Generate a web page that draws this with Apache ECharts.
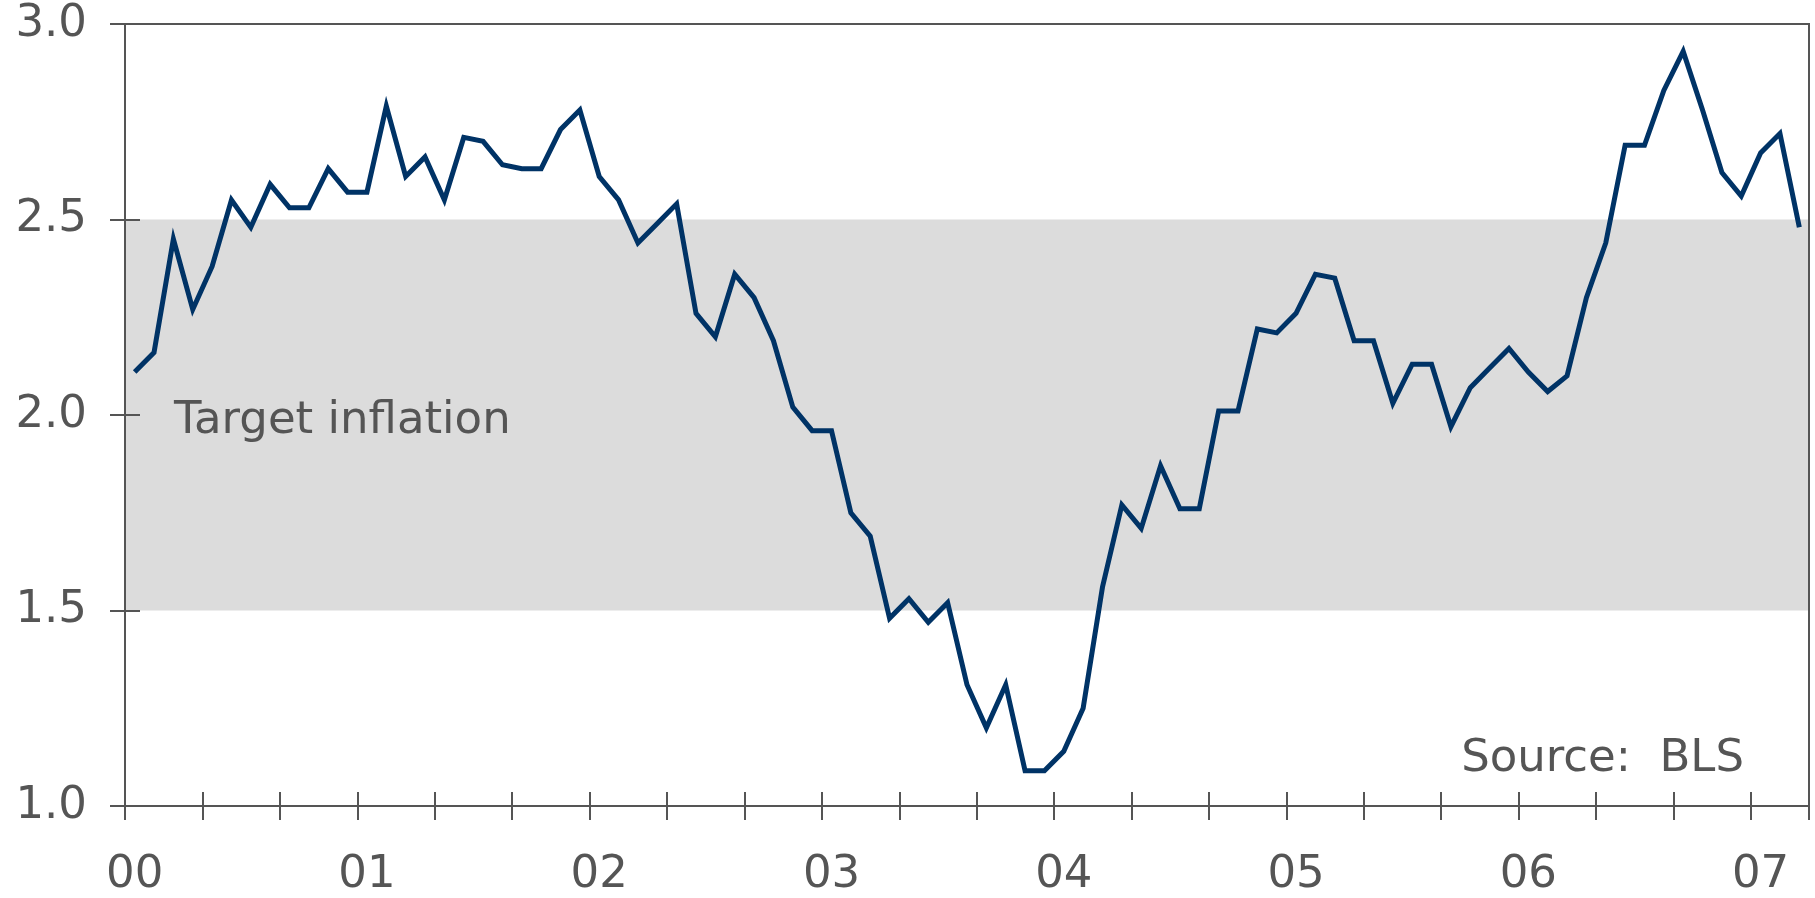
<!DOCTYPE html>
<html>
<head>
<meta charset="utf-8">
<script src="https://cdn.jsdelivr.net/npm/echarts@6/dist/echarts.min.js"></script>
<style>
  html, body { margin: 0; padding: 0; background: #fff; }
  #chart { width: 1815px; height: 898px; }
</style>
</head>
<body>
<div id="chart"></div>
<script>
// year tick labels (one label every 12 months)
var yearLabels = ['00', '01', '02', '03', '04', '05', '06', '07']
var monthsInLastYear = 3

// inflation, % y/y, monthly from Jan 2000
var inflation = [
  2.11, 2.16, 2.45, 2.27, 2.38, 2.55, 2.48, 2.59, 2.53, 2.53, 2.63, 2.57,
  2.57, 2.79, 2.61, 2.66, 2.55, 2.71, 2.70, 2.64, 2.63, 2.63, 2.73, 2.78,
  2.61, 2.55, 2.44, 2.49, 2.54, 2.26, 2.20, 2.36, 2.30, 2.19, 2.02, 1.96,
  1.96, 1.75, 1.69, 1.48, 1.53, 1.47, 1.52, 1.31, 1.20, 1.31, 1.09, 1.09,
  1.14, 1.25, 1.56, 1.77, 1.71, 1.87, 1.76, 1.76, 2.01, 2.01, 2.22, 2.21,
  2.26, 2.36, 2.35, 2.19, 2.19, 2.03, 2.13, 2.13, 1.97, 2.07, 2.12, 2.17,
  2.11, 2.06, 2.10, 2.30, 2.44, 2.69, 2.69, 2.83, 2.93, 2.78, 2.62, 2.56,
  2.67, 2.72, 2.48
]

// target band
var targetLow = 1.5
var targetHigh = 2.5

// build month categories from the year labels
var categories = []
yearLabels.forEach(function (y, idx) {
  var n = idx === yearLabels.length - 1 ? monthsInLastYear : 12
  for (var m = 1; m <= n; m++) {
    categories.push(y + '-' + (m < 10 ? '0' + m : m))
  }
})

var axisColor = '#555555'
var textColor = '#555555'
var fontFamily = 'DejaVu Sans'
var fontSize = 45

var chart = echarts.init(document.getElementById('chart'), null, { renderer: 'canvas' })

chart.setOption({
  animation: false,
  backgroundColor: '#ffffff',
  textStyle: { fontFamily: fontFamily },
  grid: {
    left: 125,
    right: 6,
    top: 24,
    bottom: 89,
    show: true,
    z: 5,
    borderColor: axisColor,
    borderWidth: 2,
    backgroundColor: 'transparent'
  },
  xAxis: [
    {
      type: 'category',
      data: categories,
      boundaryGap: true,
      position: 'bottom',
      z: 5,
      axisLine: { onZero: false, lineStyle: { color: axisColor, width: 2 } },
      axisTick: { show: true, interval: 3, length: 14, lineStyle: { color: axisColor, width: 2 } },
      axisLabel: {
        interval: 11,
        margin: 47,
        color: textColor,
        fontSize: fontSize,
        fontFamily: fontFamily,
        formatter: function (v) { return v.split('-')[0] }
      },
      splitLine: { show: false }
    },
    {
      // inside half of the crossing ticks
      type: 'category',
      data: categories,
      boundaryGap: true,
      position: 'bottom',
      z: 5,
      axisLine: { show: false, onZero: false },
      axisTick: { show: true, inside: true, interval: 3, length: 14, lineStyle: { color: axisColor, width: 2 } },
      axisLabel: { show: false },
      splitLine: { show: false }
    }
  ],
  yAxis: [
    {
      type: 'value',
      min: 1,
      max: 3,
      interval: 0.5,
      z: 5,
      axisLine: { show: true, lineStyle: { color: axisColor, width: 2 } },
      axisTick: { show: true, length: 15, lineStyle: { color: axisColor, width: 2 } },
      axisLabel: {
        margin: 38,
        color: textColor,
        fontSize: fontSize,
        fontFamily: fontFamily,
        formatter: function (v) { return v.toFixed(1) }
      },
      splitLine: { show: false }
    },
    {
      type: 'value',
      position: 'left',
      min: 1,
      max: 3,
      interval: 0.5,
      z: 5,
      axisLine: { show: false },
      axisTick: { show: true, inside: true, length: 15, lineStyle: { color: axisColor, width: 2 } },
      axisLabel: { show: false },
      splitLine: { show: false }
    }
  ],
  series: [
    {
      type: 'line',
      data: inflation,
      showSymbol: false,
      z: 2,
      lineStyle: { color: '#003366', width: 5, join: 'miter' },
      markArea: {
        silent: true,
        itemStyle: { color: '#dcdcdc' },
        label: {
          show: true,
          position: 'insideLeft',
          distance: 49,
          offset: [0, 6],
          color: textColor,
          fontSize: fontSize,
          fontFamily: fontFamily
        },
        data: [[
          { name: 'Target inflation', yAxis: targetLow },
          { yAxis: targetHigh }
        ]]
      }
    }
  ],
  graphic: [
    {
      type: 'text',
      x: 1744,
      y: 759,
      z: 10,
      style: {
        text: 'Source:  BLS',
        fill: textColor,
        fontSize: fontSize,
        fontFamily: fontFamily,
        align: 'right',
        verticalAlign: 'middle'
      }
    }
  ]
})
</script>
</body>
</html>
